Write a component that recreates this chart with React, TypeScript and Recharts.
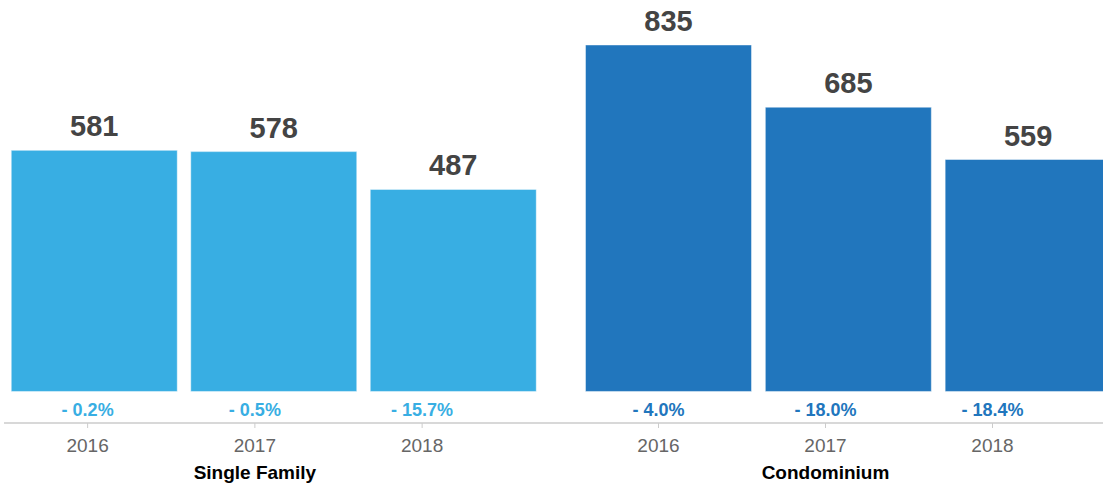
import React from 'react';
import { BarChart, Bar, XAxis, YAxis, LabelList } from 'recharts';

const years = ['2016', '2017', '2018'];
const singleFamilyValues = [581, 578, 487];
const singleFamilyChange = [-0.2, -0.5, -15.7];
const condoValues = [835, 685, 559];
const condoChange = [-4.0, -18.0, -18.4];
const groupNames = ['Single Family', 'Condominium'];

const FONT = '"Liberation Sans", Arial, Helvetica, sans-serif';
const COLORS = ['#38aee3', '#2176bd'];

type Row = { year: string; value: number; change: number };

const makeRows = (values: number[], changes: number[]): Row[] =>
  years.map((year, i) => ({ year, value: values[i], change: changes[i] }));

const singleFamilyRows = makeRows(singleFamilyValues, singleFamilyChange);
const condoRows = makeRows(condoValues, condoChange);

const fmtChange = (v: number) => `${v < 0 ? '- ' : '+ '}${Math.abs(v).toFixed(1)}%`;

const renderValue = (p: any) => (
  <text
    x={Number(p.x) + Number(p.width) / 2}
    y={Number(p.y) - 14}
    textAnchor="middle"
    fontSize={29}
    fontWeight="bold"
    fill="#444444"
    fontFamily={FONT}
  >
    {p.value}
  </text>
);

const makeTick = (rows: Row[], color: string, group: string) => (props: any) => {
  const { x, y, payload } = props;
  const idx = payload.index ?? years.indexOf(payload.value);
  const row = rows[idx];
  return (
    <g>
      <text x={x} y={y} dy={-12} textAnchor="middle" fontSize={18} fontWeight="bold" fill={color} fontFamily={FONT}>
        {fmtChange(row.change)}
      </text>
      <text x={x} y={y} dy={23.7} textAnchor="middle" fontSize={19} fill="#666666" fontFamily={FONT}>
        {payload.value}
      </text>
      {idx === 1 && (
        <text x={x} y={y} dy={51.3} textAnchor="middle" fontSize={19} fontWeight="bold" fill="#000000" fontFamily={FONT}>
          {group}
        </text>
      )}
    </g>
  );
};

type GroupProps = {
  rows: Row[];
  color: string;
  group: string;
  left: number;
  width: number;
  barPad: { left: number; right: number };
  tickPad: { left: number; right: number };
};

function GroupChart({ rows, color, group, left, width, barPad, tickPad }: GroupProps) {
  return (
    <div style={{ position: 'absolute', left, top: 0 }}>
      <BarChart width={width} height={489} data={rows} margin={{ top: 18, right: 0, bottom: 0, left: 4 }}>
        <YAxis hide domain={[-76, 900]} allowDataOverflow />
        <XAxis
          xAxisId="ticks"
          dataKey="year"
          height={66}
          padding={tickPad}
          axisLine={{ stroke: '#d8d8d8', strokeWidth: 2 }}
          tickLine={{ stroke: '#cccccc', strokeWidth: 1 }}
          tickSize={5}
          tickMargin={0}
          interval={0}
          tick={makeTick(rows, color, group)}
        />
        <XAxis xAxisId="bars" dataKey="year" hide height={0} padding={barPad} />
        <Bar
          xAxisId="bars"
          dataKey="value"
          fill={color}
          stroke="#ffffff"
          strokeOpacity={0.45}
          strokeWidth={1}
          barSize={166}
          isAnimationActive={false}
        >
          <LabelList dataKey="value" content={renderValue} />
        </Bar>
      </BarChart>
    </div>
  );
}

export default function App() {
  return (
    <div
      style={{
        position: 'fixed',
        left: 0,
        top: 0,
        width: 1103,
        height: 489,
        overflow: 'hidden',
        background: '#ffffff',
      }}
    >
      <GroupChart
        rows={singleFamilyRows}
        color={COLORS[0]}
        group={groupNames[0]}
        left={0}
        width={575}
        barPad={{ left: 0.25, right: 32.25 }}
        tickPad={{ left: 0, right: 69.25 }}
      />
      <GroupChart
        rows={condoRows}
        color={COLORS[1]}
        group={groupNames[1]}
        left={571}
        width={547}
        barPad={{ left: 3.5, right: 0 }}
        tickPad={{ left: 0, right: 42 }}
      />
    </div>
  );
}
